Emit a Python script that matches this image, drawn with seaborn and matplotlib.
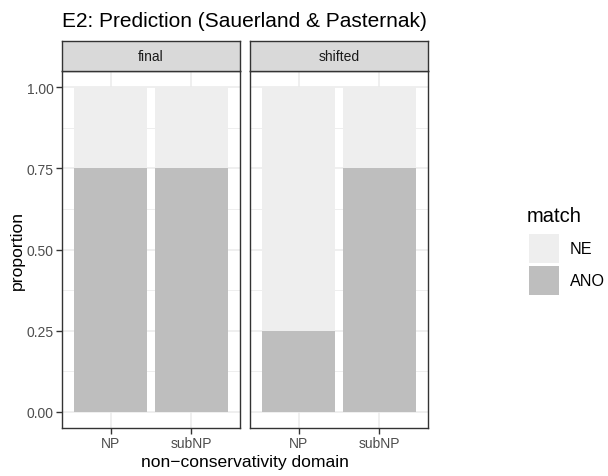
import matplotlib
matplotlib.use("Agg")
import matplotlib.pyplot as plt
import seaborn as sns
import pandas as pd
import numpy as np
from matplotlib.patches import Rectangle

# ---- data ----
facets = ["final", "shifted"]
domains = ["NP", "subNP"]
ano_final = [0.75, 0.75]
ne_final = [0.25, 0.25]
ano_shifted = [0.25, 0.75]
ne_shifted = [0.75, 0.25]
match_levels = ["NE", "ANO"]
y_ticks = [0.00, 0.25, 0.50, 0.75, 1.00]
y_tick_labels = ["0.00", "0.25", "0.50", "0.75", "1.00"]

ano = {"final": ano_final, "shifted": ano_shifted}
ne = {"final": ne_final, "shifted": ne_shifted}
rows = []
for f in facets:
    for i, d in enumerate(domains):
        rows.append({"facet": f, "domain": d, "ANO": ano[f][i], "NE": ne[f][i],
                     "top": ano[f][i] + ne[f][i]})
df = pd.DataFrame(rows)

colors = {"NE": "#EEEEEE", "ANO": "#BEBEBE"}

sns.set_theme(style="white")
plt.rcParams["font.family"] = ["Liberation Sans", "DejaVu Sans"]

W, H = 608, 477
fig = plt.figure(figsize=(W / 100, H / 100), dpi=100)

def fx(px):
    return px / W

def fy(py):
    return 1 - py / H

panel_x = [(62, 240), (250, 428)]
p_top, p_bot = 72, 429
s_top = 42
border = "#333333"

for k, f in enumerate(facets):
    x0, x1 = panel_x[k]
    ax = fig.add_axes([fx(x0), fy(p_bot), fx(x1 - x0), (p_bot - p_top) / H])
    ax.set_facecolor("white")
    sub = df[df.facet == f]
    # grid
    for yv in [0.125, 0.375, 0.625, 0.875]:
        ax.axhline(yv, color="#EBEBEB", lw=0.6, zorder=0)
    for yv in y_ticks:
        ax.axhline(yv, color="#EBEBEB", lw=1.1, zorder=0)
    for xv in range(len(domains)):
        ax.axvline(xv, color="#EBEBEB", lw=1.1, zorder=0)
    sns.barplot(data=sub, x="domain", y="top", order=domains, color=colors["NE"],
                saturation=1, width=0.9, linewidth=0, errorbar=None, ax=ax, zorder=2)
    sns.barplot(data=sub, x="domain", y="ANO", order=domains, color=colors["ANO"],
                saturation=1, width=0.9, linewidth=0, errorbar=None, ax=ax, zorder=3)
    ax.set_xlim(-0.6, 1.6)
    ax.set_ylim(-0.05, 1.05)
    ax.set_xlabel("")
    ax.set_ylabel("")
    ax.set_yticks(y_ticks)
    if k == 0:
        ax.set_yticklabels(y_tick_labels)
    else:
        ax.set_yticklabels([])
        ax.tick_params(axis="y", length=0)
    ax.tick_params(axis="both", which="major", direction="out", length=4, width=1,
                   color=border, labelsize=10, labelcolor="#4D4D4D", pad=2,
                   bottom=True, left=(k == 0))
    for sp in ax.spines.values():
        sp.set_visible(True)
        sp.set_color(border)
        sp.set_linewidth(1.0)
        sp.set_zorder(5)
    # strip
    sax = fig.add_axes([fx(x0), fy(p_top), fx(x1 - x0), (p_top - s_top) / H])
    sax.set_facecolor("#D9D9D9")
    sax.set_xticks([])
    sax.set_yticks([])
    for sp in sax.spines.values():
        sp.set_visible(True)
        sp.set_color(border)
        sp.set_linewidth(1.0)
    sax.text(0.5, 0.5, f, ha="center", va="center", fontsize=10, color="#1A1A1A",
             transform=sax.transAxes)

# titles
fig.text(fx(62), fy(27), "E2: Prediction (Sauerland & Pasternak)", fontsize=15,
         ha="left", va="baseline", color="black")
fig.text(fx(245), fy(467), "non\u2212conservativity domain", fontsize=12.6,
         ha="center", va="baseline", color="black")
fig.text(fx(17), fy(250), "proportion", fontsize=12.6, rotation=90,
         ha="center", va="center", color="black")

# legend
fig.text(fx(527), fy(222), "match", fontsize=14.5, ha="left", va="baseline", color="black")
key_y = [(235, 264), (267, 296)]
for lvl, (ya, yb) in zip(match_levels, key_y):
    fig.patches.append(Rectangle((fx(529), fy(yb)), fx(30), (yb - ya) / H,
                                 transform=fig.transFigure, facecolor=colors[lvl],
                                 edgecolor="none"))
    fig.text(fx(570), fy((ya + yb) / 2), lvl, fontsize=11.6, ha="left", va="center",
             color="black")

fig.savefig("out.png", dpi=100)
